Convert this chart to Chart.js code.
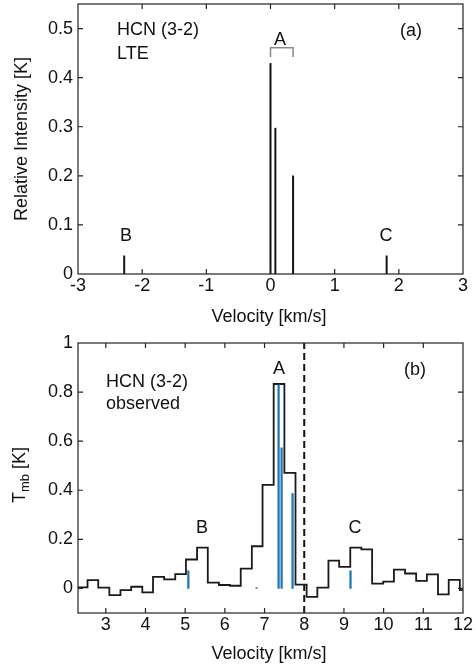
<!DOCTYPE html>
<html>
<head>
<meta charset="utf-8">
<script src="https://cdn.jsdelivr.net/npm/chart.js@4.4.1/dist/chart.umd.min.js"></script>
<style>
html, body { margin: 0; padding: 0; background: #fff; }
body { width: 476px; height: 671px; position: relative; overflow: hidden;
       font-family: 'Liberation Sans', Arial, sans-serif; color: #111; }
#panelA { position: absolute; left: 0; top: 0; }
#panelB { position: absolute; left: 0; top: 310px; }
.lbl { position: absolute; font-size: 18px; line-height: 18px; white-space: nowrap; }
.mid { transform: translateX(-50%); }
.rot { transform: translate(-50%, -50%) rotate(-90deg); }
.lbl sub { font-size: 13px; line-height: 0; vertical-align: -4px; }
</style>
</head>
<body>
<canvas id="panelA" width="476" height="310"></canvas>
<canvas id="panelB" width="476" height="361"></canvas>

<!-- panel (a) texts -->
<div class="lbl" style="left:117px;top:20px">HCN (3-2)</div>
<div class="lbl" style="left:117px;top:44px">LTE</div>
<div class="lbl mid" style="left:411px;top:21px">(a)</div>
<div class="lbl mid" style="left:280px;top:30px">A</div>
<div class="lbl mid" style="left:126px;top:226px">B</div>
<div class="lbl mid" style="left:386px;top:226px">C</div>
<div class="lbl mid" style="left:269px;top:307px">Velocity [km/s]</div>
<div class="lbl rot" style="left:21px;top:139px">Relative Intensity [K]</div>

<!-- panel (b) texts -->
<div class="lbl" style="left:106px;top:372px">HCN (3-2)</div>
<div class="lbl" style="left:106px;top:394px">observed</div>
<div class="lbl mid" style="left:415px;top:360px">(b)</div>
<div class="lbl mid" style="left:279px;top:359px">A</div>
<div class="lbl mid" style="left:202px;top:518px">B</div>
<div class="lbl mid" style="left:355px;top:518px">C</div>
<div class="lbl mid" style="left:269px;top:644px">Velocity [km/s]</div>
<div class="lbl rot" style="left:19px;top:475px">T<sub>mb</sub> [K]</div>

<script>
// panel (a): LTE hyperfine components
const lteVelocity = [-2.28, 0.0, 0.076, 0.352, 1.81];
const lteIntensity = [0.037, 0.429, 0.297, 0.200, 0.037];
const groupAVelocity = [0.0, 0.352];   // ends of the bracket over A
const bracketLevel = [0.442, 0.461];
const lteXTicks = [-3, -2, -1, 0, 1, 2, 3];
const lteYTicks = [0, 0.1, 0.2, 0.3, 0.4, 0.5];

// panel (b): observed spectrum (channel edges) and scaled LTE components
const binEdges = [2.26, 2.54, 2.81, 3.09, 3.37, 3.64, 3.92, 4.19, 4.47, 4.75, 5.02, 5.30,
                  5.57, 5.85, 6.13, 6.40, 6.68, 6.95, 7.23, 7.50, 7.78, 8.06, 8.33, 8.61,
                  8.88, 9.16, 9.44, 9.71, 9.99, 10.26, 10.54, 10.82, 11.09, 11.37, 11.64, 11.92, 12.20];
const tmbObserved = [0.004, 0.034, 0.003, -0.027, -0.007, 0.007, -0.016, 0.047, 0.037, 0.058,
                     0.118, 0.166, 0.024, 0.014, 0.011, 0.081, 0.172, 0.422, 0.833, 0.471,
                     0.016, -0.034, 0.003, 0.113, 0.088, 0.166, 0.159, 0.020, 0.028, 0.077,
                     0.061, 0.031, 0.057, -0.024, 0.035, -0.007];
const modelVelocity = [5.08, 6.80, 7.354, 7.43, 7.706, 9.166];
const modelTmb = [0.072, 0.003, 0.830, 0.573, 0.387, 0.072];
const obsXTicks = [3, 4, 5, 6, 7, 8, 9, 10, 11, 12];
const obsYTicks = [0, 0.2, 0.4, 0.6, 0.8, 1];
const markerVelocity = 8;

const INK = '#111';
const tickFont = { family: "'Liberation Sans', Arial, sans-serif", size: 18 };

// box around the plot with inward tick marks on all four sides
const frameTicks = {
    id: 'frameTicks',
    afterDatasetsDraw(chart) {
        const { ctx, chartArea: a, scales: { x, y } } = chart;
        const len = 5;
        ctx.save();
        ctx.strokeStyle = '#222';
        ctx.lineWidth = 1.2;
        ctx.beginPath();
        x.ticks.forEach(t => {
            const px = x.getPixelForValue(t.value);
            if (px <= a.left + 1 || px >= a.right - 1) return;
            ctx.moveTo(px, a.bottom); ctx.lineTo(px, a.bottom - len);
            ctx.moveTo(px, a.top); ctx.lineTo(px, a.top + len);
        });
        y.ticks.forEach(t => {
            const py = y.getPixelForValue(t.value);
            if (py <= a.top + 1 || py >= a.bottom - 1) return;
            ctx.moveTo(a.left, py); ctx.lineTo(a.left + len, py);
            ctx.moveTo(a.right, py); ctx.lineTo(a.right - len, py);
        });
        ctx.stroke();
        ctx.strokeRect(a.left, a.top, a.right - a.left, a.bottom - a.top);
        ctx.restore();
    }
};

function axis(min, max, tickList, isX, size) {
    return {
        type: 'linear',
        min: min,
        max: max,
        offset: false,
        grid: { display: false, drawTicks: false },
        border: { display: false },
        ticks: {
            color: INK,
            font: tickFont,
            padding: isX ? 1 : 5,
            autoSkip: false,
            maxRotation: 0,
            callback: v => String(v)
        },
        afterBuildTicks: s => { s.ticks = tickList.map(v => ({ value: v })); },
        afterFit: s => {
            if (isX) s.height = size; else s.width = size;
            s.paddingLeft = 0; s.paddingRight = 0; s.paddingTop = 0; s.paddingBottom = 0;
        }
    };
}

const baseOptions = {
    responsive: false,
    animation: false,
    events: [],
    plugins: { legend: { display: false }, tooltip: { enabled: false } }
};

// --- panel (a) ---
new Chart(document.getElementById('panelA'), {
    type: 'bar',
    data: {
        datasets: [{
            type: 'bar',
            data: lteVelocity.map((v, i) => ({ x: v, y: lteIntensity[i] })),
            backgroundColor: INK,
            borderWidth: 0,
            barThickness: 1.3,
            grouped: false
        }, {
            type: 'line',
            data: [
                { x: groupAVelocity[0], y: bracketLevel[0] },
                { x: groupAVelocity[0], y: bracketLevel[1] },
                { x: groupAVelocity[1], y: bracketLevel[1] },
                { x: groupAVelocity[1], y: bracketLevel[0] }
            ],
            borderColor: '#888',
            borderWidth: 1.5,
            pointRadius: 0,
            tension: 0
        }]
    },
    options: Object.assign({}, baseOptions, {
        layout: { padding: { left: 0, right: 13, top: 4, bottom: 0 } },
        scales: {
            x: axis(-3, 3, lteXTicks, true, 36),
            y: axis(0, 0.55, lteYTicks, false, 78)
        }
    }),
    plugins: [frameTicks]
});

// --- panel (b) ---
const stepData = binEdges.map((e, i) => ({ x: e, y: tmbObserved[Math.min(i, tmbObserved.length - 1)] }));

new Chart(document.getElementById('panelB'), {
    type: 'bar',
    data: {
        datasets: [{
            type: 'bar',
            data: modelVelocity.map((v, i) => ({ x: v, y: modelTmb[i] })),
            backgroundColor: '#1f77b4',
            borderWidth: 0,
            barThickness: 1.6,
            grouped: false,
            order: 0
        }, {
            type: 'line',
            data: stepData,
            stepped: 'before',
            borderColor: '#1a1a1a',
            borderWidth: 1.8,
            pointRadius: 0,
            order: 1
        }, {
            type: 'line',
            data: [{ x: markerVelocity, y: -0.1 }, { x: markerVelocity, y: 1 }],
            borderColor: INK,
            borderWidth: 2,
            borderDash: [7, 4],
            pointRadius: 0,
            order: 2
        }]
    },
    options: Object.assign({}, baseOptions, {
        layout: { padding: { left: 0, right: 13, top: 33, bottom: 0 } },
        scales: {
            x: axis(2.3, 12, obsXTicks, true, 58),
            y: axis(-0.1, 1, obsYTicks, false, 78)
        }
    }),
    plugins: [frameTicks]
});
</script>
</body>
</html>
